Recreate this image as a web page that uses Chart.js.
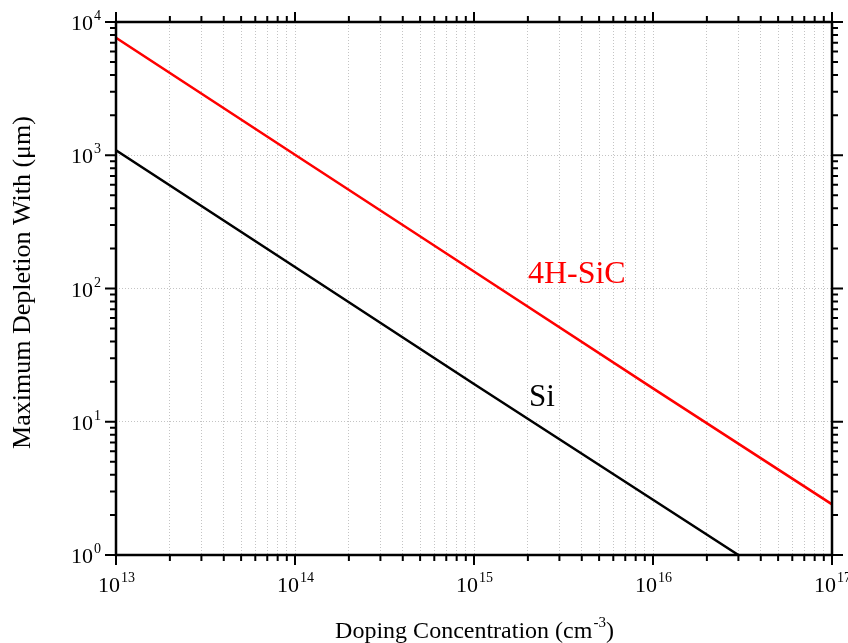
<!DOCTYPE html>
<html>
<head>
<meta charset="utf-8">
<script src="https://cdn.jsdelivr.net/npm/chart.js@4.4.1/dist/chart.umd.min.js"></script>
<style>
  body { margin: 0; background: #fff; }
  canvas { display: block; }
</style>
</head>
<body>
<canvas id="GraficoDeplecao" width="848" height="643"></canvas>
<script>
// dados
var dopagemSiC = [1e13, 1e14, 1e15, 1e16, 1e17];
var larguraSiC = [7620, 1010, 134, 17.8, 2.4];
var dopagemSi = [1e13, 1e14, 1e15, 1e16, 3.0e16];
var larguraSi = [1090, 145, 19.2, 2.6, 1.0];

// expoentes das decadas (rotulos dos eixos)
var expoentesX = [13, 14, 15, 16, 17];
var expoentesY = [0, 1, 2, 3, 4];

var fonte = '"Liberation Serif", "Times New Roman", serif';

function ticksLog(expoentes) {
    var lista = [];
    for (var i = 0; i < expoentes.length; i++) {
        var base = Math.pow(10, expoentes[i]);
        lista.push({ value: base, major: true });
        if (i < expoentes.length - 1) {
            for (var m = 2; m <= 9; m++) lista.push({ value: m * base, major: false });
        }
    }
    return lista;
}

function ehDecada(v) {
    var l = Math.log10(v);
    return Math.abs(l - Math.round(l)) < 1e-9;
}

function textoPotencia(ctx, exp, x, y, alinhamento) {
    ctx.font = '22px ' + fonte;
    var w1 = ctx.measureText('10').width;
    ctx.font = '14px ' + fonte;
    var w2 = ctx.measureText(String(exp)).width;
    var inicio = alinhamento === 'right' ? x - w1 - w2 : x - (w1 + w2) / 2;
    ctx.textAlign = 'left';
    ctx.textBaseline = 'alphabetic';
    ctx.font = '22px ' + fonte;
    ctx.fillText('10', inicio, y);
    ctx.font = '14px ' + fonte;
    ctx.fillText(String(exp), inicio + w1 + 1, y - 10);
}

var molduraPlugin = {
    id: 'moldura',
    afterDraw: function (chart) {
        var ctx = chart.ctx;
        var a = chart.chartArea;
        var sx = chart.scales.x, sy = chart.scales.y;
        ctx.save();
        ctx.strokeStyle = '#000';
        ctx.fillStyle = '#000';
        ctx.lineWidth = 2.5;
        ctx.strokeRect(a.left, a.top, a.right - a.left, a.bottom - a.top);

        ctx.lineWidth = 2;
        ctx.beginPath();
        sx.ticks.forEach(function (t) {
            var px = sx.getPixelForValue(t.value);
            var len = t.major ? 10 : 6;
            ctx.moveTo(px, a.bottom); ctx.lineTo(px, a.bottom + len);
            ctx.moveTo(px, a.top); ctx.lineTo(px, a.top - len);
        });
        sy.ticks.forEach(function (t) {
            var py = sy.getPixelForValue(t.value);
            var len = t.major ? 11 : 6;
            ctx.moveTo(a.left, py); ctx.lineTo(a.left - len, py);
            ctx.moveTo(a.right, py); ctx.lineTo(a.right + len, py);
        });
        ctx.stroke();

        expoentesX.forEach(function (e) {
            var px = sx.getPixelForValue(Math.pow(10, e));
            textoPotencia(ctx, e, px, a.bottom + 37, 'center');
        });
        expoentesY.forEach(function (e) {
            var py = sy.getPixelForValue(Math.pow(10, e));
            textoPotencia(ctx, e, 100, py + 8, 'right');
        });

        // titulo do eixo x
        ctx.font = '24px ' + fonte;
        var t1 = 'Doping Concentration (cm';
        var t3 = ')';
        var w1 = ctx.measureText(t1).width, w3 = ctx.measureText(t3).width;
        ctx.font = '15px ' + fonte;
        var w2 = ctx.measureText('-3').width;
        var cx = (a.left + a.right) / 2;
        var x0 = cx - (w1 + w2 + w3) / 2;
        ctx.textAlign = 'left';
        ctx.font = '24px ' + fonte;
        ctx.fillText(t1, x0, 638);
        ctx.fillText(t3, x0 + w1 + w2 + 1, 638);
        ctx.font = '15px ' + fonte;
        ctx.fillText('-3', x0 + w1 + 1, 627);

        // titulo do eixo y
        ctx.translate(30, (a.top + a.bottom) / 2 - 6);
        ctx.rotate(-Math.PI / 2);
        ctx.textAlign = 'center';
        ctx.font = '26px ' + fonte;
        ctx.fillText('Maximum Depletion With (\u03bcm)', 0, 0);
        ctx.restore();

        // nomes das curvas
        ctx.save();
        ctx.textAlign = 'left';
        ctx.textBaseline = 'alphabetic';
        ctx.font = '32px ' + fonte;
        ctx.fillStyle = '#ff0000';
        ctx.fillText('4H-SiC', sx.getPixelForValue(2e15), sy.getPixelForValue(110));
        ctx.font = '31px ' + fonte;
        ctx.fillStyle = '#000';
        ctx.fillText('Si', sx.getPixelForValue(2.03e15), sy.getPixelForValue(13.1));
        ctx.restore();
    }
};

var ctx = document.getElementById('GraficoDeplecao').getContext('2d');
var grafico = new Chart(ctx, {
    type: 'line',
    data: {
        datasets: [{
            label: '4H-SiC',
            data: dopagemSiC.map(function (v, i) { return { x: v, y: larguraSiC[i] }; }),
            borderColor: '#ff0000',
            borderWidth: 2.5,
            pointRadius: 0,
            tension: 0
        }, {
            label: 'Si',
            data: dopagemSi.map(function (v, i) { return { x: v, y: larguraSi[i] }; }),
            borderColor: '#000000',
            borderWidth: 2.5,
            pointRadius: 0,
            tension: 0
        }]
    },
    options: {
        responsive: false,
        animation: false,
        layout: { padding: { top: 22, right: 16, left: 0, bottom: 0 } },
        plugins: {
            legend: { display: false },
            tooltip: { enabled: false }
        },
        scales: {
            x: {
                type: 'logarithmic',
                min: 1e13,
                max: 1e17,
                afterBuildTicks: function (s) { s.ticks = ticksLog(expoentesX); },
                afterFit: function (s) { s.height = 88; },
                ticks: { display: false },
                grid: { color: '#c4c4c4', lineWidth: 1, drawTicks: false },
                border: { display: false, dash: [1, 2] }
            },
            y: {
                type: 'logarithmic',
                min: 1,
                max: 1e4,
                afterBuildTicks: function (s) { s.ticks = ticksLog(expoentesY); },
                afterFit: function (s) { s.width = 116; },
                ticks: { display: false },
                grid: {
                    color: function (c) { return c.tick && ehDecada(c.tick.value) ? '#c4c4c4' : 'rgba(0,0,0,0)'; },
                    lineWidth: 1,
                    drawTicks: false
                },
                border: { display: false, dash: [1, 2] }
            }
        }
    },
    plugins: [molduraPlugin]
});
</script>
</body>
</html>
